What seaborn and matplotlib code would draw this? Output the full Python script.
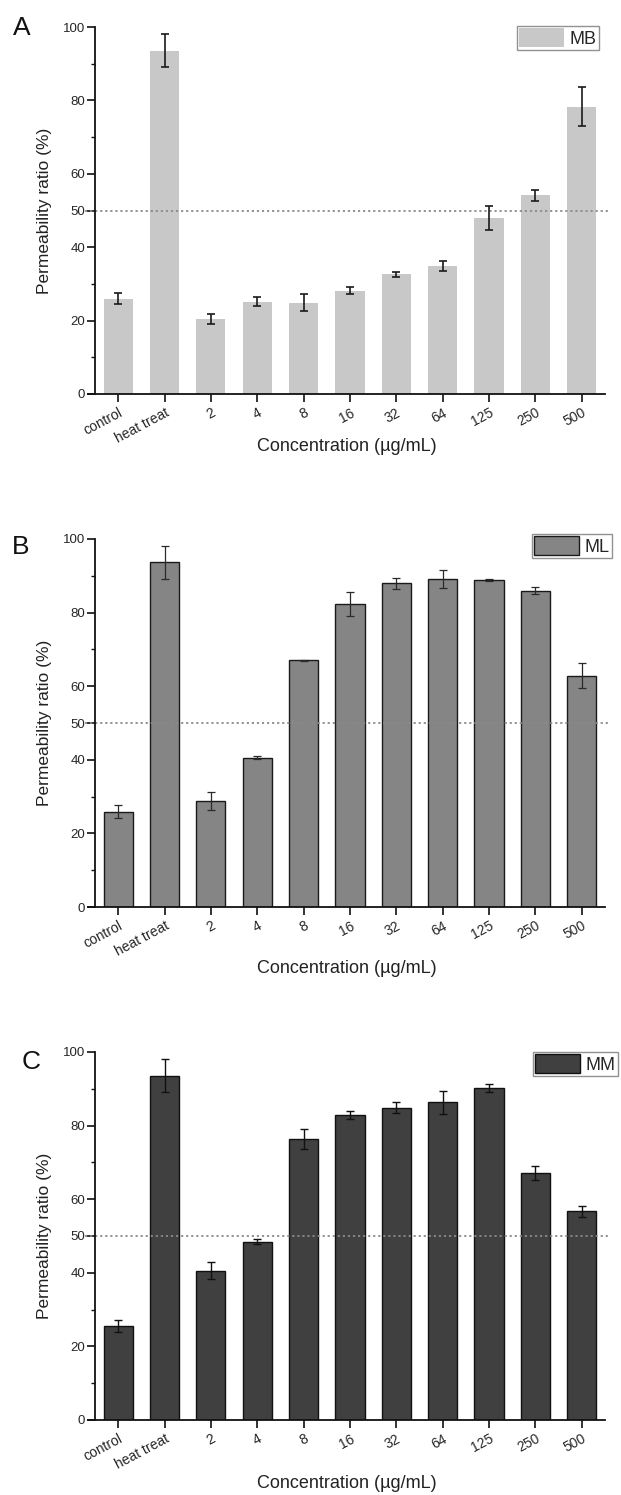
import matplotlib
matplotlib.use("Agg")
import matplotlib.pyplot as plt
import seaborn as sns
import pandas as pd
from matplotlib.ticker import FixedLocator

# Treatment groups on the x axis
categories = ["control", "heat treat", "2", "4", "8", "16", "32", "64", "125", "250", "500"]

# Membrane permeability ratio (%) and standard deviations per extract
mb_values = [25.9, 93.5, 20.4, 25.2, 24.9, 28.2, 32.6, 34.9, 48.0, 54.1, 78.3]
mb_errors = [1.5, 4.5, 1.3, 1.1, 2.3, 1.0, 0.7, 1.3, 3.2, 1.4, 5.3]

ml_values = [25.9, 93.7, 28.8, 40.6, 67.0, 82.4, 88.0, 89.1, 88.8, 86.0, 62.8]
ml_errors = [1.7, 4.5, 2.4, 0.5, 0.2, 3.3, 1.5, 2.4, 0.3, 1.0, 3.4]

mm_values = [25.6, 93.6, 40.6, 48.5, 76.3, 82.9, 84.8, 86.3, 90.2, 67.1, 56.7]
mm_errors = [1.7, 4.4, 2.4, 0.8, 2.7, 1.0, 1.5, 3.2, 1.0, 2.0, 1.5]

series_names = ["MB", "ML", "MM"]
panel_letters = ["A", "B", "C"]
y_major = [0, 20, 40, 50, 60, 80, 100]
y_minor = [10, 30, 70, 90]
threshold = 50

sns.set_theme(style="ticks")
plt.rcParams["font.family"] = ["Liberation Sans", "DejaVu Sans"]

W, H = 621, 1495
fig = plt.figure(figsize=(W / 100, H / 100), dpi=100)

panels = [
    dict(values=mb_values, errors=mb_errors, face="#c8c8c8", edge="#c8c8c8", elw=1.2, ecol="#1a1a1a",
         top=27, bottom=394, leg=(517, 26), letter=(13, 16), xpad=-6),
    dict(values=ml_values, errors=ml_errors, face="#858585", edge="#1a1a1a", elw=0.9, ecol="#2a2a2a",
         top=539, bottom=907, leg=(532, 534), letter=(12, 535), xpad=1),
    dict(values=mm_values, errors=mm_errors, face="#404040", edge="#111111", elw=1.0, ecol="#111111",
         top=1052, bottom=1420, leg=(533, 1052), letter=(22, 1050), xpad=2),
]

ax_left_px, ax_right_px = 88, 605

for p, name, letter in zip(panels, series_names, panel_letters):
    rect = [ax_left_px / W, (H - p["bottom"]) / H,
            (ax_right_px - ax_left_px) / W, (p["bottom"] - p["top"]) / H]
    ax = fig.add_axes(rect)
    df = pd.DataFrame({"group": categories, "ratio": p["values"]})
    sns.barplot(data=df, x="group", y="ratio", order=categories, color=p["face"],
                saturation=1, width=0.63, errorbar=None, ax=ax,
                edgecolor=p["edge"], linewidth=1.0 if p["edge"] != p["face"] else 0)
    ax.errorbar(range(len(categories)), p["values"], yerr=p["errors"], fmt="none",
                ecolor=p["ecol"], elinewidth=p["elw"], capsize=2.8, capthick=p["elw"], zorder=3)

    ax.axhline(threshold, xmin=-0.005, xmax=1.01, color="#8a8a8a", linestyle=(0, (1.2, 1.6)),
               linewidth=1.3, clip_on=False, zorder=2.5)

    ax.set_xlim(-0.65, 10.5)
    ax.set_ylim(0, 100)
    ax.spines["left"].set_position(("data", -0.5))
    ax.spines["top"].set_visible(False)
    ax.spines["right"].set_visible(False)
    for s in ("left", "bottom"):
        ax.spines[s].set_linewidth(1.3)
        ax.spines[s].set_color("#111111")

    ax.yaxis.set_major_locator(FixedLocator(y_major))
    ax.yaxis.set_minor_locator(FixedLocator(y_minor))
    ax.tick_params(axis="y", which="major", direction="out", length=5.5, width=1.2,
                   labelsize=9.5, color="#111111", pad=1.5)
    ax.tick_params(axis="y", which="minor", direction="out", length=3, width=1.0, color="#111111")
    ax.tick_params(axis="x", which="major", direction="out", length=5.5, width=1.2,
                   labelsize=10, color="#111111", pad=3)
    ax.set_xticks(range(len(categories)))
    ax.set_xticklabels(categories, rotation=28, ha="right", rotation_mode="anchor")

    ax.set_ylabel("Permeability ratio (%)", fontsize=12.5, labelpad=8, color="#222222")
    ax.set_xlabel("Concentration (µg/mL)", fontsize=13, labelpad=p["xpad"], color="#222222")

    leg = ax.legend(handles=[ax.patches[0]], labels=[name], loc="upper left",
                    bbox_to_anchor=(p["leg"][0] / W, 1 - p["leg"][1] / H),
                    bbox_transform=fig.transFigure, frameon=True, fancybox=False,
                    fontsize=13, handlelength=2.5, handleheight=1.25, handletextpad=0.3,
                    borderpad=0.12, borderaxespad=0)
    leg.get_frame().set_edgecolor("#777777")
    leg.get_frame().set_linewidth(1.0)

    fig.text(p["letter"][0] / W, 1 - p["letter"][1] / H, letter, fontsize=19,
             ha="left", va="top", color="#111111")

fig.savefig("out.png", dpi=100)
